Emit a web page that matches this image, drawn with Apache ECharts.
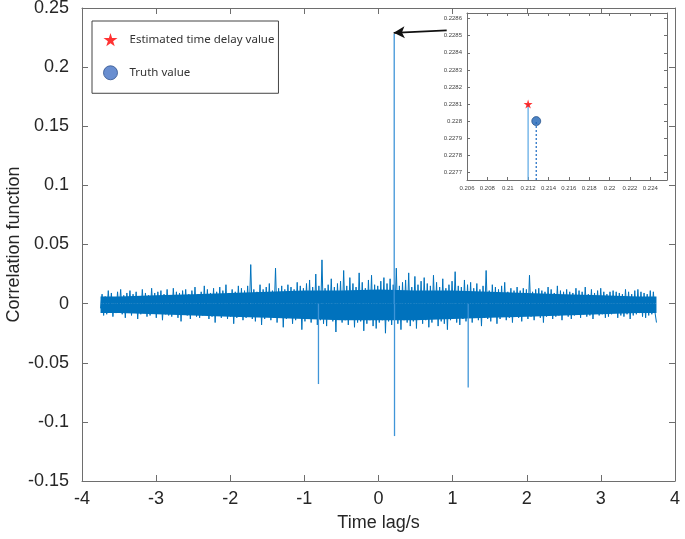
<!DOCTYPE html>
<html>
<head>
<meta charset="utf-8">
<script src="https://cdn.jsdelivr.net/npm/echarts@6/dist/echarts.min.js"></script>
<style>html,body{margin:0;padding:0;background:#fff}#c{width:685px;height:539px}</style>
</head>
<body>
<div id="c"></div>
<script>
// ---- data ----
const lagStart = -3.75;
const lagEnd = 3.75;
// cross-correlation trace (values x 1e-3)
const noiseMilli = [
 -4, 8,-10, 6,-9,11,-7, 9,-11, 5,-8,10,-6,12,-9, 7,-12, 9,-5,11,-10, 8,-7,10,-13, 6,-9,12,-8, 9,
 -11, 7,-10,13,-8, 9,-12,10,-6,11,-14, 8,-9,12,-10, 7,-11,13,-8,10,-12, 9,-15,11,-7,12,-10, 8,-13,11,
 -9,14,-11, 8,-12,10,-10,15,-8,12,-13, 9,-11,13,-16,10,-9,14,-12,11,-10,16,-13, 9,-11,12,-17,10,-12,15,
 -10,13,-14,11,-12,15,-9,33,-13,12,-15,10,-11,16,-18,12,-13,14,-10,17,-14,11,-12,30,-16,13,-11,15,-20,12,
 -13,16,-12,14,-17,12,-14,18,-11,15,-22,13,-15,17,-12,20,-16,14,-13,25,-18,15,-14,37,-17,13,-19,16,-12,21,
 -15,14,-24,17,-13,19,-16,28,-14,15,-18,22,-12,17,-20,14,-16,26,-15,18,-23,13,-17,20,-14,24,-19,16,-21,15,
 -16,19,-14,22,-25,17,-15,21,-18,16,-13,30,-17,15,-22,18,-14,20,-16,26,-19,14,-15,23,-21,16,-13,19,-17,22,
 -14,17,-20,15,-16,24,-13,18,-19,14,-15,21,-17,13,-22,16,-14,19,-12,27,-16,15,-18,14,-13,20,-15,16,-12,18,
 -16,13,-11,17,-14,12,-19,15,-12,28,-13,11,-15,16,-10,14,-17,12,-13,15,-11,18,-14,10,-12,13,-16,11,-10,14,
 -12,11,-15,13,-10,12,-13,24,-11,10,-14,12,-9,13,-12,11,-16,10,-11,14,-10,12,-13, 9,-11,15,-10,11,-14,10,
 -9,12,-11,10,-13, 9,-10,13,-8,11,-12,10,-9,14,-11, 8,-10,12,-13, 9,-8,11,-10,13,-9,10,-12, 8,-11,10,
 -9,11,-8,10,-12, 9,-10, 8,-11,12,-9,10,-13, 8,-10,11,-9,12,-8,10,-11, 9,-12, 8,-10,11,-9,10,-7,-16
];
// dense core of the trace (where samples overlap into a solid band)
const bandLags  = [-3.75, -3.5, -3, -2.5, -2, -1.5, -1, -0.5, 0, 0.5, 1, 1.5, 2, 2.5, 3, 3.5, 3.75];
const bandUpper = [0.006, 0.006, 0.007, 0.008, 0.009, 0.010, 0.011, 0.011, 0.012, 0.011, 0.011, 0.010, 0.009, 0.008, 0.007, 0.006, 0.006];
const bandLower = [-0.008, -0.008, -0.009, -0.010, -0.011, -0.012, -0.013, -0.014, -0.014, -0.014, -0.013, -0.012, -0.011, -0.010, -0.009, -0.008, -0.008];
// isolated peaks of the correlation function
const spikeLags = [-0.81, 0.212, 0.216, 1.21];
const spikeValues = [-0.068, 0.2281, -0.112, -0.071];

// inset (zoom of the main peak)
const estLag = 0.212, estValue = 0.2281;     // estimated time delay
const truthLag = 0.2128, truthValue = 0.2280; // truth value
const insetXTicks = [0.206, 0.208, 0.21, 0.212, 0.214, 0.216, 0.218, 0.22, 0.222, 0.224];
const insetYTicks = [0.2277, 0.2278, 0.2279, 0.228, 0.2281, 0.2282, 0.2283, 0.2284, 0.2285, 0.2286];
const insetXRange = [0.206, 0.22564];
const insetYRange = [0.227655, 0.228633];

const legendNames = ['Estimated time delay value', 'Truth value'];

// ---- build ----
const step = (lagEnd - lagStart) / (noiseMilli.length - 1);
const noiseData = noiseMilli.map((v, i) => [lagStart + i * step, v / 1000]);
const spikeData = spikeLags.map((x, i) => [x, spikeValues[i]]);
const upperData = bandLags.map((x, i) => [x, bandUpper[i]]);
const lowerData = bandLags.map((x, i) => [x, bandLower[i]]);

const STAR = 'path://M50,0 L61,35 L98,35 L68,57 L79,91 L50,70 L21,91 L32,57 L2,35 L39,35 Z';
const AX = '#6e6e6e';
const TXT = '#262626';
const BLUE = '#0072bd';
const mainFont = 'Liberation Sans, Arial, sans-serif';

const chart = echarts.init(document.getElementById('c'), null, {renderer: 'canvas'});

const axBase = (extra) => Object.assign({
  axisLine: {show: true, onZero: false, lineStyle: {color: AX, width: 1}},
  splitLine: {show: false}
}, extra);

chart.setOption({
  animation: false,
  backgroundColor: '#fff',
  grid: [
    {left: 82, right: 10, top: 8, bottom: 58, outerBoundsMode: 'none', containLabel: false},
    {left: 467, top: 13, width: 200, height: 167, outerBoundsMode: 'none', containLabel: false,
     backgroundColor: '#fff', show: true, borderWidth: 0}
  ],
  legend: {
    orient: 'vertical', left: 92, top: 21,
    padding: [12, 4, 13, 11],
    itemGap: 19, itemWidth: 14, itemHeight: 14,
    borderColor: '#444', borderWidth: 1, backgroundColor: '#fff',
    textStyle: {fontFamily: 'Noto Sans, sans-serif', fontSize: 11.5, color: '#333', padding: [0, 0, 0, 7]},
    data: [
      {name: legendNames[0], icon: STAR, itemStyle: {color: '#ff0000'}},
      {name: legendNames[1], icon: 'circle', itemStyle: {color: '#4472c4', borderColor: '#2f528f', borderWidth: 1}}
    ]
  },
  xAxis: [
    axBase({gridIndex: 0, type: 'value', min: -4, max: 4, interval: 1,
      name: 'Time lag/s', nameLocation: 'middle', nameGap: 33,
      nameTextStyle: {fontFamily: mainFont, fontSize: 18, color: TXT},
      axisTick: {inside: true, length: 6, lineStyle: {color: AX}},
      axisLabel: {fontFamily: mainFont, fontSize: 18, color: TXT, margin: 9}}),
    axBase({gridIndex: 0, type: 'value', position: 'top', min: -4, max: 4, interval: 1,
      axisTick: {inside: true, length: 6, lineStyle: {color: AX}}, axisLabel: {show: false}}),
    axBase({gridIndex: 1, type: 'value', min: insetXRange[0], max: insetXRange[1],
      axisTick: {inside: true, length: 3, customValues: insetXTicks, lineStyle: {color: AX}},
      axisLabel: {customValues: insetXTicks, fontFamily: mainFont, fontSize: 6, color: '#444', margin: 5,
        formatter: v => String(+v.toFixed(4))}}),
    axBase({gridIndex: 1, type: 'value', position: 'top', min: insetXRange[0], max: insetXRange[1],
      axisTick: {inside: true, length: 3, customValues: insetXTicks, lineStyle: {color: AX}}, axisLabel: {show: false}})
  ],
  yAxis: [
    axBase({gridIndex: 0, type: 'value', min: -0.15, max: 0.25, interval: 0.05,
      name: 'Correlation function', nameLocation: 'middle', nameGap: 59, nameMoveOverlap: false,
      nameTextStyle: {fontFamily: mainFont, fontSize: 18, color: TXT},
      axisTick: {inside: true, length: 6, lineStyle: {color: AX}},
      axisLabel: {fontFamily: mainFont, fontSize: 18, color: TXT, margin: 13,
        formatter: v => String(+v.toFixed(2))}}),
    axBase({gridIndex: 0, type: 'value', position: 'right', min: -0.15, max: 0.25, interval: 0.05,
      axisTick: {inside: true, length: 6, lineStyle: {color: AX}}, axisLabel: {show: false}}),
    axBase({gridIndex: 1, type: 'value', min: insetYRange[0], max: insetYRange[1],
      axisTick: {inside: true, length: 3, customValues: insetYTicks, lineStyle: {color: AX}},
      axisLabel: {customValues: insetYTicks, fontFamily: mainFont, fontSize: 6, color: '#444', margin: 5,
        formatter: v => String(+v.toFixed(4))}}),
    axBase({gridIndex: 1, type: 'value', position: 'right', min: insetYRange[0], max: insetYRange[1],
      axisTick: {inside: true, length: 3, customValues: insetYTicks, lineStyle: {color: AX}}, axisLabel: {show: false}})
  ],
  series: [
    {
      type: 'line', xAxisIndex: 0, yAxisIndex: 0, data: upperData, symbol: 'none',
      lineStyle: {width: 0}, areaStyle: {color: BLUE, opacity: 1, origin: 0}, silent: true, z: 1
    },
    {
      type: 'line', xAxisIndex: 0, yAxisIndex: 0, data: lowerData, symbol: 'none',
      lineStyle: {width: 0}, areaStyle: {color: BLUE, opacity: 1, origin: 0}, silent: true, z: 1
    },
    {
      type: 'line', xAxisIndex: 0, yAxisIndex: 0, data: noiseData,
      symbol: 'none', lineStyle: {color: BLUE, width: 1}, silent: true, z: 2,
      markLine: {
        silent: true, symbol: ['none', 'arrow'], symbolSize: [9, 11],
        label: {show: false},
        lineStyle: {color: '#111', width: 1.8, type: 'solid'},
        data: [[{coord: [0.92, 0.2310]}, {coord: [0.205, 0.2290]}]]
      }
    },
    {
      type: 'bar', xAxisIndex: 0, yAxisIndex: 0, data: spikeData,
      barWidth: 1.3, itemStyle: {color: '#3f95d8'}, silent: true, z: 3
    },
    {
      type: 'line', xAxisIndex: 2, yAxisIndex: 2, data: [[estLag, insetYRange[0]], [estLag, estValue]],
      symbol: 'none', lineStyle: {color: '#5aa7e4', width: 1.2}, silent: true, clip: true
    },
    {
      type: 'line', xAxisIndex: 2, yAxisIndex: 2, data: [[truthLag, insetYRange[0]], [truthLag, truthValue]],
      symbol: 'none', lineStyle: {color: '#2a74c6', width: 1.3, type: [2, 2]}, silent: true, clip: true
    },
    {
      name: legendNames[0], type: 'scatter', xAxisIndex: 2, yAxisIndex: 2,
      data: [[estLag, estValue]], symbol: STAR, symbolSize: 9, itemStyle: {color: '#ff0000'}, z: 5
    },
    {
      name: legendNames[1], type: 'scatter', xAxisIndex: 2, yAxisIndex: 2,
      data: [[truthLag, truthValue]], symbol: 'circle', symbolSize: 9,
      itemStyle: {color: '#1f64b5', borderColor: '#123f7a', borderWidth: 0.8}, z: 5
    }
  ]
});
</script>
</body>
</html>
